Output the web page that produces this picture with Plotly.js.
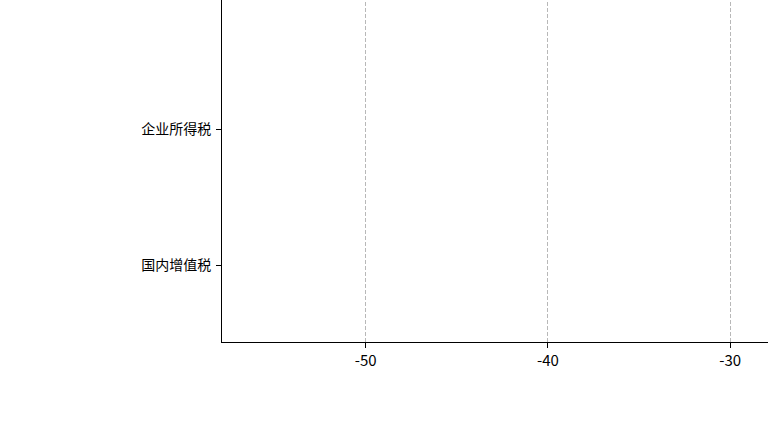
<!DOCTYPE html>
<html>
<head>
<meta charset="utf-8">
<script src="https://cdn.plot.ly/plotly-3.0.1.min.js"></script>
<style>
  html, body { margin: 0; padding: 0; width: 768px; height: 432px; overflow: hidden; background: #fff; }
  #chart { position: absolute; left: 0; top: -100px; width: 900px; height: 532px; }
</style>
</head>
<body>
<div id="chart"></div>
<script>
// Categories (bottom to top) and estimated values (bars lie outside the visible window)
const categories = ['国内增值税', '企业所得税', '个人所得税'];
const values = [3.5, -5.4, 6.2];
const xTickVals = [-50, -40, -30, -20];
const xTickText = ['-50', '-40', '-30', '-20'];

const trace = {
  type: 'bar',
  orientation: 'h',
  y: categories,
  x: values,
  marker: { color: '#4472c4' },
  hoverinfo: 'x+y'
};

const layout = {
  width: 900,
  height: 532,
  margin: { l: 221.5, r: 0, t: 0, b: 90 },
  paper_bgcolor: '#ffffff',
  plot_bgcolor: '#ffffff',
  showlegend: false,
  font: { family: '"Noto Sans CJK SC", "Noto Sans", sans-serif', size: 14, color: '#000' },
  xaxis: {
    range: [-57.89, -20.68],
    tickvals: xTickVals,
    ticktext: xTickText,
    showline: true,
    linecolor: '#000',
    linewidth: 1,
    ticks: 'outside',
    ticklen: 5,
    tickcolor: '#000',
    showgrid: true,
    gridcolor: '#b8b8b8',
    griddash: '4px,2px',
    gridwidth: 1,
    zeroline: false,
    tickfont: { size: 15 }
  },
  yaxis: {
    type: 'category',
    range: [-0.566, 2.684],
    showline: true,
    linecolor: '#000',
    linewidth: 1,
    ticks: 'outside',
    ticklen: 5,
    tickcolor: '#000',
    ticklabelstandoff: 2,
    showgrid: false,
    zeroline: false,
    tickfont: { size: 14 }
  }
};

Plotly.newPlot('chart', [trace], layout, { displayModeBar: false, staticPlot: true });
</script>
</body>
</html>
